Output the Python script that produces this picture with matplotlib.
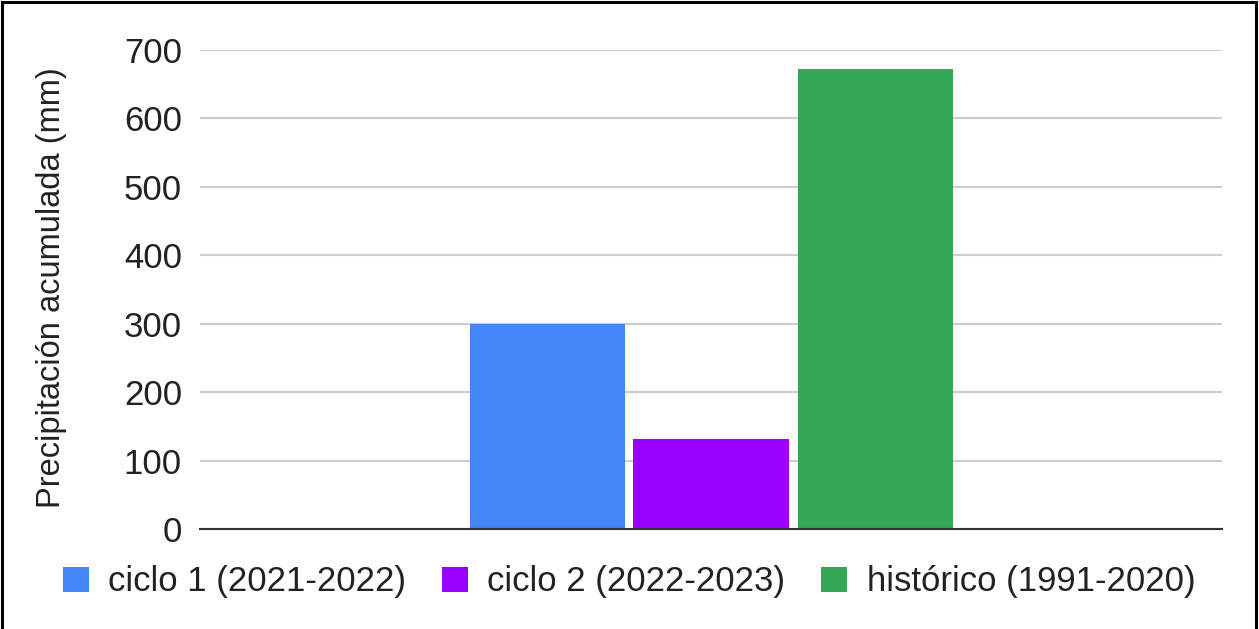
"""Accumulated precipitation: two crop cycles against the 1991-2020 normal."""

import matplotlib
matplotlib.use("Agg")
import matplotlib.pyplot as plt
from matplotlib.patches import Rectangle

plt.rcParams["font.family"] = ["Liberation Sans", "DejaVu Sans"]

# ---------------------------------------------------------------------------
# Data
# ---------------------------------------------------------------------------

series = ["ciclo 1 (2021-2022)", "ciclo 2 (2022-2023)", "histórico (1991-2020)"]
precip_mm = [300, 131, 672]
colors = ["#4285f4", "#9900ff", "#34a853"]

y_ticks = [0, 100, 200, 300, 400, 500, 600, 700]

# ---------------------------------------------------------------------------
# Figure
# ---------------------------------------------------------------------------

W, H = 1259, 629
fig = plt.figure(figsize=(W / 100, H / 100), dpi=100)
ax = fig.add_axes([200 / W, (H - 529) / H, 1022 / W, 479 / H])

offsets = [-0.32, 0.0, 0.322]
bar_w = 0.305
handles = []
for off, val, col, lab in zip(offsets, precip_mm, colors, series):
    b = ax.bar(off, val, width=bar_w, color=col, label=lab, zorder=3)
    handles.append(b)

ax.set_xlim(-1, 1)
ax.set_ylim(0, 700)
ax.set_yticks(y_ticks)
ax.set_xticks([])
ax.tick_params(axis="y", length=0, pad=13, labelsize=25, labelcolor="#222222")
ax.grid(axis="y", color="#cccccc", linewidth=1.5, zorder=0)
for side in ("left", "right", "top"):
    ax.spines[side].set_visible(False)
ax.spines["bottom"].set_color("#333333")
ax.spines["bottom"].set_linewidth(1.5)
ax.spines["bottom"].set_zorder(4)

fig.text(52 / W, 1 - 288 / H, "Precipitación acumulada (mm)", rotation=90,
         ha="center", va="center", fontsize=23.5, color="#222222")

fig.legend(handles=handles, labels=series, loc="center",
           bbox_to_anchor=(629 / W, (H - 582) / H), ncol=3, frameon=False,
           fontsize=25, handlelength=0.75, handleheight=0.75,
           handletextpad=0.55, columnspacing=1.04, labelcolor="#222222")

# outer frame (left, top, right edges)
fig.add_artist(Rectangle((1.5 / W, -0.05), (W - 5) / W, 1.05 - 1.5 / H,
                         transform=fig.transFigure, fill=False,
                         edgecolor="black", linewidth=2.2))

fig.savefig("out.png", dpi=100, facecolor="white")
